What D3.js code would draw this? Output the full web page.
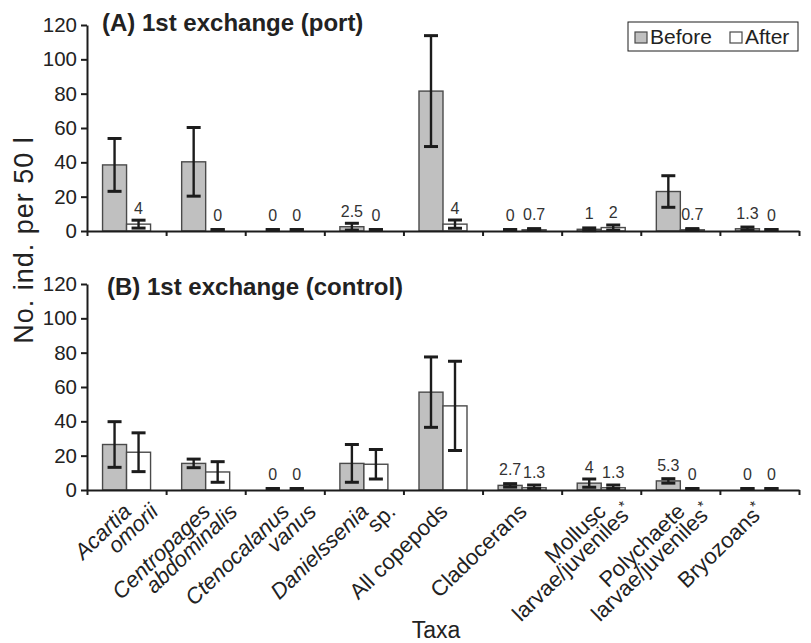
<!DOCTYPE html>
<html>
<head>
<meta charset="utf-8">
<script src="https://cdn.jsdelivr.net/npm/d3@7"></script>
<style>
  html, body { margin: 0; padding: 0; background: #fff; }
  svg { display: block; font-family: "Liberation Sans", Arial, Helvetica, sans-serif; }
</style>
</head>
<body>
<svg id="chart" width="811" height="643"></svg>
<script>
// Taxa (categories) with the text of each axis label line; italic flags mark species names
const taxa = ["Acartia omorii", "Centropages abdominalis", "Ctenocalanus vanus", "Danielssenia sp.",
  "All copepods", "Cladocerans", "Mollusc larvae/juveniles*", "Polychaete larvae/juveniles*", "Bryozoans*"];
const taxaLines = [
  [[["Acartia", true]], [["omorii", true]]],
  [[["Centropages", true]], [["abdominalis", true]]],
  [[["Ctenocalanus", true]], [["vanus", true]]],
  [[["Danielssenia", true]], [["sp.", false]]],
  [[["All copepods", false]]],
  [[["Cladocerans", false]]],
  [[["Mollusc", false]], [["larvae/juveniles", false], ["*", false, true]]],
  [[["Polychaete", false]], [["larvae/juveniles", false], ["*", false, true]]],
  [[["Bryozoans", false], ["*", false, true]]]
];

const seriesNames = ["Before", "After"];
const yTicks = [0, 20, 40, 60, 80, 100, 120];

// (A) 1st exchange (port): means and error (±)
const portBefore    = [38.5, 40.3, 0, 2.5, 81.5, 0, 1, 23, 1.3];
const portBeforeErr = [15.4, 20, 0, 2, 32.3, 0, 0.8, 9.2, 1];
const portAfter     = [4, 0, 0, 0, 4, 0.7, 2, 0.7, 0];
const portAfterErr  = [2.3, 0, 0, 0, 2.4, 0.7, 1.5, 0.7, 0];

// (B) 1st exchange (control)
const controlBefore    = [26.5, 15.5, 0, 15.5, 57, 2.7, 4, 5.3, 0];
const controlBeforeErr = [13.3, 2.5, 0, 11, 20.5, 1, 2.4, 1.3, 0];
const controlAfter     = [22, 10.5, 0, 15, 49, 1.3, 1.3, 0, 0];
const controlAfterErr  = [11.3, 6, 0, 8.6, 26, 1.6, 1.6, 0, 0];

const panels = [
  { title: "(A) 1st exchange (port)", before: portBefore, beforeErr: portBeforeErr,
    after: portAfter, afterErr: portAfterErr, top: 25, bottom: 231, titleX: 102, titleY: 31 },
  { title: "(B) 1st exchange (control)", before: controlBefore, beforeErr: controlBeforeErr,
    after: controlAfter, afterErr: controlAfterErr, top: 284, bottom: 490, titleX: 107, titleY: 295 }
];

const svg = d3.select("#chart");
const left = 87, right = 799;
const fill = { Before: "#c0c0c0", After: "#ffffff" };
const barStroke = "#4a4a4a";
const ink = "#1c1c1c";

const x = d3.scaleBand().domain(taxa).range([left, right]).paddingInner(0).paddingOuter(0);
const bw = x.bandwidth();
const groupW = 48;
const xs = d3.scaleBand().domain(seriesNames).range([bw / 2 - groupW / 2, bw / 2 + groupW / 2]);
const xBound = d3.scaleLinear().domain([0, taxa.length]).range([left, right]);

panels.forEach(p => {
  const y = d3.scaleLinear().domain([0, 120]).range([p.bottom, p.top]);
  const g = svg.append("g");

  const rows = taxa.map((t, i) => ({
    taxon: t,
    vals: [
      { s: "Before", v: p.before[i], e: p.beforeErr[i] },
      { s: "After", v: p.after[i], e: p.afterErr[i] }
    ]
  }));

  const groups = g.selectAll("g.grp").data(rows).join("g")
    .attr("class", "grp")
    .attr("transform", d => `translate(${x(d.taxon)},0)`);

  // bars
  groups.selectAll("rect").data(d => d.vals).join("rect")
    .attr("x", d => xs(d.s))
    .attr("width", xs.bandwidth())
    .attr("y", d => y(d.v))
    .attr("height", d => y(0) - y(d.v))
    .attr("fill", d => fill[d.s])
    .attr("stroke", barStroke)
    .attr("stroke-width", 1.4);

  // error bars
  const cap = 7;
  const eb = groups.selectAll("g.err").data(d => d.vals).join("g").attr("class", "err")
    .attr("stroke", ink);
  eb.append("line")
    .attr("x1", d => xs(d.s) + xs.bandwidth() / 2)
    .attr("x2", d => xs(d.s) + xs.bandwidth() / 2)
    .attr("y1", d => y(d.v + d.e))
    .attr("y2", d => y(Math.max(0, d.v - d.e)))
    .attr("stroke-width", 2.4);
  eb.append("line")
    .attr("x1", d => xs(d.s) + xs.bandwidth() / 2 - cap)
    .attr("x2", d => xs(d.s) + xs.bandwidth() / 2 + cap)
    .attr("y1", d => y(d.v + d.e) + (d.e === 0 && d.v === 0 ? -1.4 : 0))
    .attr("y2", d => y(d.v + d.e) + (d.e === 0 && d.v === 0 ? -1.4 : 0))
    .attr("stroke-width", 3);
  eb.append("line")
    .attr("x1", d => xs(d.s) + xs.bandwidth() / 2 - cap)
    .attr("x2", d => xs(d.s) + xs.bandwidth() / 2 + cap)
    .attr("y1", d => y(Math.max(0, d.v - d.e)) - (d.v - d.e <= 0 ? 1.4 : 0))
    .attr("y2", d => y(Math.max(0, d.v - d.e)) - (d.v - d.e <= 0 ? 1.4 : 0))
    .attr("stroke-width", 3);

  // value labels for small values
  groups.selectAll("text.val").data(d => d.vals.filter(v => v.v < 6)).join("text")
    .attr("class", "val")
    .attr("x", d => xs(d.s) + xs.bandwidth() / 2)
    .attr("y", d => y(d.v) - 10)
    .attr("text-anchor", "middle")
    .attr("font-size", 16)
    .attr("fill", "#333")
    .text(d => d3.format("~")(d.v));

  // y axis
  const ya = g.append("g").attr("transform", `translate(${left},0)`)
    .call(d3.axisLeft(y).tickValues(yTicks).tickSize(6).tickSizeOuter(0).tickPadding(4));
  ya.select(".domain").attr("stroke", ink).attr("stroke-width", 2);
  ya.selectAll(".tick line").attr("stroke", ink).attr("stroke-width", 2);
  ya.selectAll(".tick text").attr("font-size", 20.5).attr("fill", "#222")
    .attr("font-family", "'Liberation Sans', Arial, sans-serif");

  // x axis with ticks at category boundaries
  const xa = g.append("g").attr("transform", `translate(0,${p.bottom})`)
    .call(d3.axisBottom(xBound).tickValues(d3.range(taxa.length + 1)).tickFormat("").tickSize(5).tickSizeOuter(0));
  xa.select(".domain").attr("stroke", ink).attr("stroke-width", 2);
  xa.selectAll(".tick line").attr("stroke", ink).attr("stroke-width", 2);

  // panel title
  svg.append("text")
    .attr("x", p.titleX).attr("y", p.titleY)
    .attr("font-size", 24).attr("font-weight", "bold").attr("fill", "#222")
    .text(p.title);
});

// category labels under the lower panel, rotated 45°
const labelY = 513;
taxaLines.forEach((lines, i) => {
  const cx = x(taxa[i]) + bw / 2;
  lines.forEach((segs, li) => {
    const ax = cx + 6 + li * 27;
    const t = svg.append("text")
      .attr("transform", `translate(${ax},${labelY}) rotate(-44)`)
      .attr("text-anchor", "end")
      .attr("font-size", 22)
      .attr("fill", "#222");
    segs.forEach(([txt, it, sup]) => {
      const ts = t.append("tspan").text(txt).attr("font-style", it ? "italic" : "normal");
      if (sup) ts.attr("font-size", 15).attr("dy", -8);
    });
  });
});

// axis titles
svg.append("text")
  .attr("transform", "translate(33,240) rotate(-90)")
  .attr("text-anchor", "middle")
  .attr("font-size", 27).attr("letter-spacing", 1).attr("fill", "#222")
  .text("No. ind. per 50 l");

svg.append("text")
  .attr("x", 436).attr("y", 638)
  .attr("text-anchor", "middle")
  .attr("font-size", 23).attr("fill", "#222")
  .text("Taxa");

// legend
const lg = svg.append("g").attr("transform", "translate(628,22)");
lg.append("rect").attr("width", 170).attr("height", 29)
  .attr("fill", "#fff").attr("stroke", ink).attr("stroke-width", 1);
const items = lg.selectAll("g.item").data(seriesNames).join("g").attr("class", "item")
  .attr("transform", (d, i) => `translate(${i === 0 ? 7 : 102},10)`);
items.append("rect").attr("width", 12).attr("height", 11)
  .attr("fill", d => fill[d]).attr("stroke", barStroke).attr("stroke-width", 1.2);
items.append("text").attr("x", 15).attr("y", 11.5)
  .attr("font-size", 21).attr("fill", "#222").text(d => d);
</script>
</body>
</html>
